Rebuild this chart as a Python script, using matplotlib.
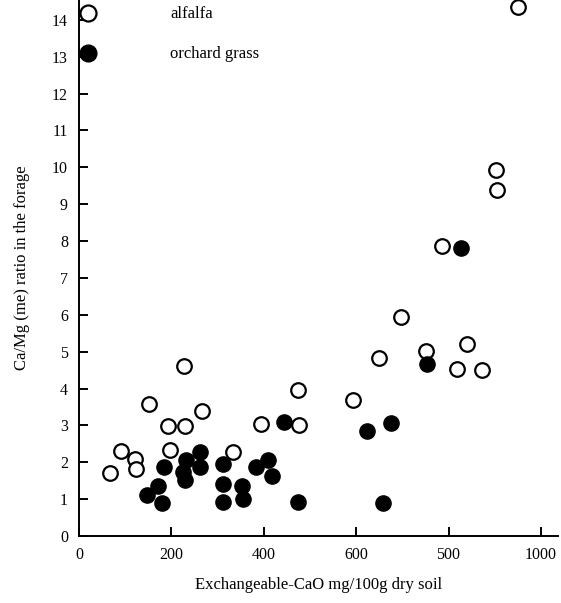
import matplotlib
matplotlib.use("Agg")
import matplotlib.pyplot as plt

plt.rcParams['font.family'] = ['Liberation Serif', 'DejaVu Serif']

# alfalfa (open circles)
alfalfa_x = [67, 91, 121, 123, 152, 193, 197, 229, 227, 266, 333, 394, 474, 476,
             593, 649, 697, 751, 818, 840, 872, 785, 903, 905, 950]
alfalfa_y = [1.71, 2.31, 2.09, 1.82, 3.58, 2.98, 2.33, 2.98, 4.61, 3.39, 2.28, 3.04, 3.96, 3.01,
             3.69, 4.83, 5.94, 5.02, 4.53, 5.21, 4.50, 7.87, 9.93, 9.39, 14.35]

# orchard grass (filled circles)
grass_x = [147, 171, 180, 184, 232, 225, 229, 262, 262, 312, 312, 312, 353, 355,
           383, 409, 418, 444, 474, 623, 658, 675, 753, 827]
grass_y = [1.11, 1.36, 0.90, 1.87, 2.06, 1.74, 1.52, 2.28, 1.87, 1.95, 1.41, 0.92, 1.36, 1.00,
           1.87, 2.06, 1.63, 3.09, 0.93, 2.85, 0.90, 3.07, 4.67, 7.81]

xticks = [0, 200, 400, 600, 800, 1000]
xticklabels = ["0", "200", "400", "600", "500", "1000"]
yticks = list(range(0, 15))

fig = plt.figure(figsize=(5.61, 6.03), dpi=100)
ax = fig.add_axes([79/561, 1-536/603, (558-79)/561, 536/603])

ax.scatter(alfalfa_x, alfalfa_y, s=110, facecolors='white', edgecolors='black',
           linewidths=1.6, label='alfalfa', zorder=3, clip_on=False)
ax.scatter(grass_x, grass_y, s=120, color='black', label='orchard grass',
           zorder=3, clip_on=False)

ax.set_xlim(0, 1037)
ax.set_ylim(0, 14.54)
ax.set_xticks(xticks)
ax.set_xticklabels(xticklabels)
ax.set_yticks(yticks)

ax.spines['top'].set_visible(False)
ax.spines['right'].set_visible(False)
ax.spines['left'].set_linewidth(1.4)
ax.spines['bottom'].set_linewidth(1.4)
ax.tick_params(direction='in', length=6.5, width=1.4, labelsize=11.5, pad=8)

ax.set_xlabel('Exchangeable-CaO mg/100g dry soil', fontsize=12, labelpad=10)
ax.set_ylabel('Ca/Mg (me) ratio in the forage', fontsize=12, labelpad=16)

ax.legend(loc='upper left', bbox_to_anchor=(-0.029, 1.002), frameon=False, fontsize=12,
          handletextpad=3.9, labelspacing=1.45, borderaxespad=0, markerscale=1.1)

fig.savefig('out.png', dpi=100)
